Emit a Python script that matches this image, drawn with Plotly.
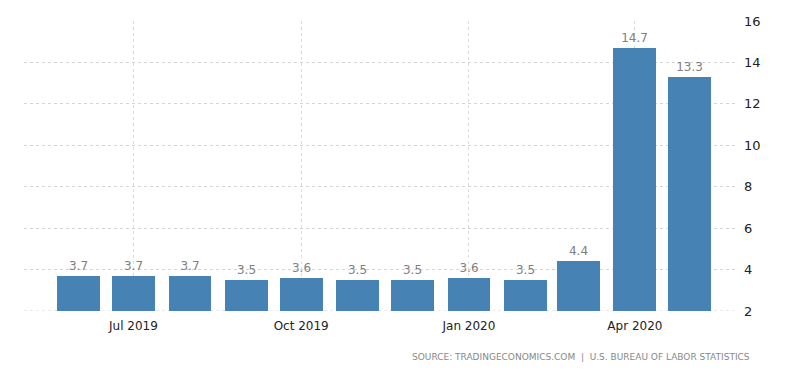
import plotly.graph_objects as go

months = ["2019-06-01", "2019-07-01", "2019-08-01", "2019-09-01", "2019-10-01", "2019-11-01",
          "2019-12-01", "2020-01-01", "2020-02-01", "2020-03-01", "2020-04-01", "2020-05-01"]
rates = [3.7, 3.7, 3.7, 3.5, 3.6, 3.5, 3.5, 3.6, 3.5, 4.4, 14.7, 13.3]
labels = [f"{v:.1f}" for v in rates]
ytick_vals = [2, 4, 6, 8, 10, 12, 14, 16]
source_text = "SOURCE: TRADINGECONOMICS.COM  |  U.S. BUREAU OF LABOR STATISTICS"

fig = go.Figure()
fig.add_trace(go.Bar(
    x=months, y=rates, base=0,
    width=[23.5 * 86400000] * len(months),
    marker=dict(color="#4682B4", line=dict(width=0)),
    text=labels, textposition="outside",
    textfont=dict(family="DejaVu Sans", size=12, color="#808080"),
    cliponaxis=False,
))

fig.add_hline(y=2, line=dict(color="#d4d4d4", width=1, dash="dot"), layer="below")

fig.update_layout(
    width=800, height=373,
    margin=dict(l=24, r=63, t=21, b=62),
    paper_bgcolor="white", plot_bgcolor="white",
    showlegend=False,
    bargap=0,
    xaxis=dict(
        type="date",
        range=["2019-05-02", "2020-05-27"],
        tick0="2019-07-01", dtick="M3",
        tickformat="%b %Y",
        showgrid=True, gridcolor="#dddddd", griddash="dot", gridwidth=1,
        zeroline=False, showline=False,
        ticks="", tickfont=dict(family="DejaVu Sans", size=12, color="#222222"),
        ticklabelstandoff=6,
    ),
    yaxis=dict(
        side="right",
        range=[2, 16],
        tickvals=ytick_vals,
        showgrid=True, gridcolor="#d4d4d4", griddash="dot", gridwidth=1,
        zeroline=False, showline=False,
        ticks="", tickfont=dict(family="DejaVu Sans", size=13, color="#222222"),
        ticklabelstandoff=6,
    ),
    annotations=[dict(
        text=source_text, xref="paper", yref="paper", x=1.021, y=-0.134,
        xanchor="right", yanchor="top", showarrow=False,
        font=dict(family="DejaVu Sans", size=9, color="#888888"),
    )],
)

fig.write_html("out.html",
               config={"displayModeBar": False},
               post_script="document.body.style.margin='0';document.body.style.overflow='hidden';")
